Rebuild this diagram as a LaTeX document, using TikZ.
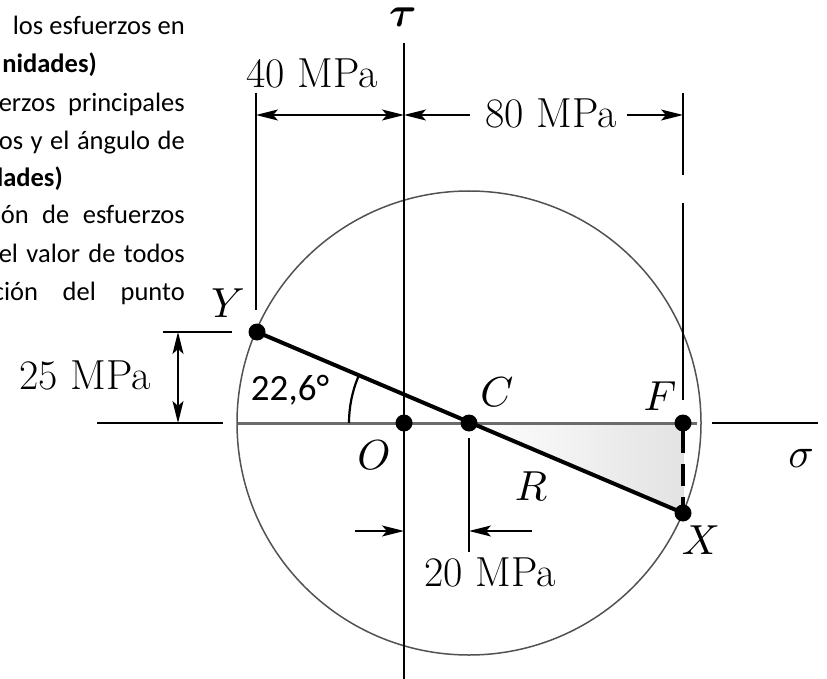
\documentclass[tikz,border=0pt]{standalone}
\usepackage{amsmath}
\usepackage{fontspec}
\DeclareFontShape{OML}{cmm}{m}{it}{<->cmmi10}{}
\DeclareFontShape{OML}{cmm}{b}{it}{<->cmmib10}{}
\newfontfamily\carlito{Carlito}
\usetikzlibrary{arrows.meta}
\tikzset{
  >={Stealth[length=22pt,width=11pt,inset=5pt]},
  ax/.style={line width=2pt, black},
  dimline/.style={line width=1.8pt, black},
  extline/.style={line width=2.4pt, black},
  dot/.style={circle, fill=black, minimum size=17pt, inner sep=0pt},
  lbl/.style={inner sep=0pt, font=\fontsize{42}{50}\selectfont},
  lt/.style={inner sep=0pt, font=\carlito\fontsize{26.5}{32}\selectfont},
  ltb/.style={inner sep=0pt, font=\carlito\bfseries\fontsize{26.5}{32}\selectfont},
}
\begin{document}
\begin{tikzpicture}[x=1pt,y=-1pt]
\useasboundingbox (0,0) rectangle (827,679);
\clip (0,0) rectangle (827,679);

% left text block (cut at the left edge)
\node[lt, anchor=base east] (l1) at (185,35) {\makebox[172pt][s]{los esfuerzos en}};
\node[ltb, anchor=base east] (l2) at (97,73) {nidades)};
\node[lt, anchor=base east] (l3) at (185,112) {\makebox[186pt][s]{erzos principales}};
\node[lt, anchor=base east] (l4) at (185,150) {\makebox[186pt][s]{os y el ángulo de}};
\node[ltb, anchor=base east] (l5) at (63,187) {lades)};
\node[lt, anchor=base east] (l6) at (185,224) {\makebox[184pt][s]{ón de esfuerzos}};
\node[lt, anchor=base east] (l7) at (185,262) {\makebox[186pt][s]{el valor de todos}};
\node[lt, anchor=base east] (l8) at (185,300) {\makebox[192pt][s]{ción del punto}};

% main points
\coordinate (Cc) at (469,423);
\coordinate (Ff) at (683,423);
\coordinate (Xx) at (683,513);
\coordinate (Yy) at (257,332);
\coordinate (Oo) at (404,423);

% shaded triangle
\fill[left color=white, right color=black!11] (Cc) -- (Ff) -- (Xx) -- cycle;

% gray sigma segment inside circle
\coordinate (g0) at (238,423);
\coordinate (g1) at (697,423);
\draw[line width=3pt, black!58] (g0) -- (g1);

% circle
\draw[line width=1.5pt, black!68] (Cc) circle[radius=232pt];

% tau axis
\coordinate (t0) at (404,43);
\coordinate (t1) at (404,679);
\draw[ax] (t0) -- (t1);

% sigma axis outside the circle
\coordinate (s0) at (97,423);
\coordinate (s1) at (223,423);
\coordinate (s2) at (712,423);
\coordinate (s3) at (818,423);
\draw[ax] (s0) -- (s1);
\draw[ax] (s2) -- (s3);

% extension lines
\coordinate (e40a) at (256,93);
\coordinate (e40b) at (256,310);
\draw[extline] (e40a) -- (e40b);
\coordinate (e80a) at (683,93);
\coordinate (e80b) at (683,175);
\coordinate (e80c) at (683,203);
\coordinate (e80d) at (683,400);
\draw[extline] (e80a) -- (e80b);
\draw[ax] (e80c) -- (e80d);
\coordinate (e20a) at (469,438);
\coordinate (e20b) at (469,552);
\draw[extline] (e20a) -- (e20b);
\coordinate (e25a) at (163,332);
\coordinate (e25b) at (232,332);
\draw[ax] (e25a) -- (e25b);

% dimension 40 MPa
\coordinate (d40a) at (256,115);
\coordinate (d40b) at (404,115);
\draw[dimline,<->] (d40a) -- (d40b);
\node[lbl] (m40) at (312,73) {40 MPa};

% dimension 80 MPa
\node[lbl] (m80) at (551,113) {80 MPa};
\coordinate (d80b) at (683,115);
\draw[dimline,<-] (d40b) -- ([xshift=-15pt]m80.west |- d40b);
\draw[dimline,->] ([xshift=10pt]m80.east |- d80b) -- (d80b);

% dimension 20 MPa
\coordinate (d20a) at (355,531);
\coordinate (d20b) at (404,531);
\coordinate (d20c) at (532,531);
\coordinate (d20d) at (469,531);
\draw[dimline,->] (d20a) -- (d20b);
\draw[dimline,->] (d20c) -- (d20d);
\node[lbl] (m20) at (490,572) {20 MPa};

% dimension 25 MPa
\coordinate (d25a) at (178,332);
\coordinate (d25b) at (178,423);
\draw[dimline,<->] (d25a) -- (d25b);
\node[lbl] (m25) at (85,375) {25 MPa};

% angle arc
\coordinate (a1) at (349,423);
\draw[line width=2.2pt] (a1) arc[start angle=180, end angle=202.6, radius=120];
\node[inner sep=0pt, font=\carlito\fontsize{37}{44}\selectfont] (ang) at (290,390) {22,6°};

% diameter and dashed line
\draw[line width=4pt] (Yy) -- (Xx);
\draw[line width=4pt, dash pattern=on 22pt off 11pt, dash phase=-8pt] (Ff) -- (Xx);

% dots
\node[dot] (Y) at (Yy) {};
\node[dot] (O) at (Oo) {};
\node[dot] (C) at (Cc) {};
\node[dot] (F) at (Ff) {};
\node[dot] (X) at (Xx) {};

% labels
\node[lbl] (tauL) at (403,17) {$\boldsymbol{\tau}$};
\node[lbl] (sigL) at (801,458) {$\sigma$};
\node[lbl] (YL) at (228,303) {$Y$};
\node[lbl] (CL) at (497,392) {$C$};
\node[lbl] (OL) at (374,455) {$O$};
\node[lbl] (RL) at (531,486) {$R$};
\node[lbl] (FL) at (660,396) {$F$};
\node[lbl] (XL) at (701,540) {$X$};
\end{tikzpicture}
\end{document}
